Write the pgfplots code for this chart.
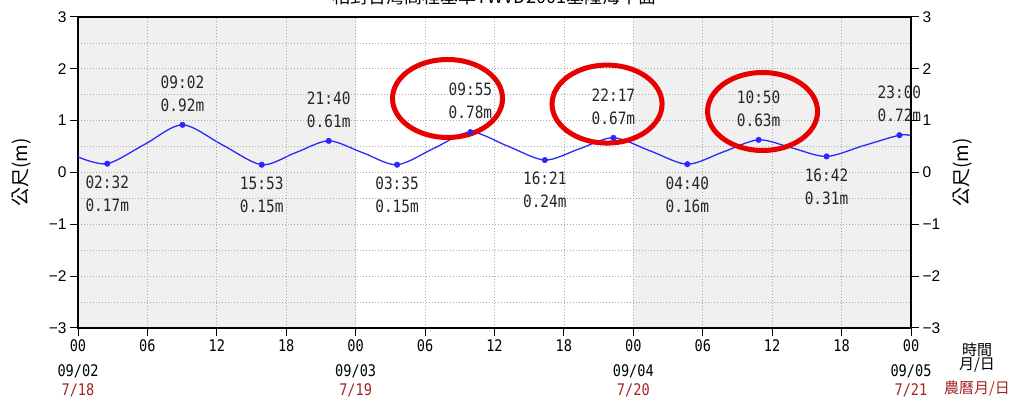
\documentclass[border=0pt]{standalone}
\usepackage{fontspec}
\usepackage{pgfplots}
\usepackage{pgfplotstable}
\pgfplotsset{compat=1.18}
\setmainfont{Liberation Sans}
\newfontfamily\cjk{Noto Sans CJK TC}
\newfontfamily\lab[FakeStretch=0.85]{DejaVu Sans Mono}
\definecolor{tideblue}{RGB}{40,40,255}
\definecolor{bggray}{RGB}{240,240,240}
\definecolor{lunar}{RGB}{165,35,35}
\definecolor{gridgray}{RGB}{170,170,170}
\definecolor{anno}{RGB}{232,0,0}

\pgfplotstableread{
h v
0 0.30
2.53 0.17
5.78 0.545
9.03 0.92
12.46 0.535
15.88 0.15
18.78 0.38
21.67 0.61
24.63 0.38
27.58 0.15
30.75 0.465
33.92 0.78
37.13 0.51
40.35 0.24
43.32 0.455
46.28 0.67
49.48 0.415
52.67 0.16
55.75 0.395
58.83 0.63
61.77 0.47
64.70 0.31
67.85 0.515
71.00 0.72
72.00 0.71
}\curve

\pgfplotstableread{
h v
2.53 0.17
9.03 0.92
15.88 0.15
21.67 0.61
27.58 0.15
33.92 0.78
40.35 0.24
46.28 0.67
52.67 0.16
58.83 0.63
64.70 0.31
71.00 0.72
}\extrema

\begin{document}
\begin{tikzpicture}
\begin{axis}[
  set layers,
  scale only axis, width=833pt, height=311pt,
  xmin=0, xmax=72, ymin=-3, ymax=3,
  xtick={0,6,...,72},
  xticklabels={00,06,12,18,00,06,12,18,00,06,12,18,00},
  ytick={-3,-2,-1,0,1,2,3},
  yticklabels={−3,−2,−1,0,1,2,3},
  minor ytick={-2.5,-1.5,-0.5,0.5,1.5,2.5},
  grid=both,
  major grid style={gridgray, line width=0.8pt, dash pattern=on 1pt off 2pt},
  minor grid style={gridgray, line width=0.8pt, dash pattern=on 1pt off 2pt},
  tick align=outside, major tick length=8pt, minor tick length=0pt,
  xtick pos=bottom, ytick pos=left,
  axis line style={line width=1.2pt, black},
  major tick style={line width=1pt, black},
  yticklabel style={font=\fontsize{15.5}{16}\selectfont},
  xticklabel style={font=\lab\fontsize{16}{16}\selectfont},
  clip=false,
]
\begin{pgfonlayer}{axis background}
\fill[bggray] (axis cs:0,-3) rectangle (axis cs:24,3);
\fill[bggray] (axis cs:48,-3) rectangle (axis cs:72,3);
\end{pgfonlayer}

\addplot[tideblue, line width=1.3pt, smooth, no marks] table[x=h, y=v] {\curve};
\addplot[only marks, mark=*, mark size=2.8pt, tideblue] table[x=h, y=v] {\extrema};

% high / low labels
\tikzset{hl/.style={font=\lab\fontsize{17}{23}\selectfont, align=center, inner sep=0pt, text=black!85}}
\node[hl, anchor=south, yshift=13pt] at (axis cs:9.03,0.92) {09:02\\0.92m};
\node[hl, anchor=south, yshift=13pt] at (axis cs:21.67,0.61) {21:40\\0.61m};
\node[hl, anchor=south, yshift=13pt] at (axis cs:33.92,0.78) {09:55\\0.78m};
\node[hl, anchor=south, yshift=13pt] at (axis cs:46.28,0.67) {22:17\\0.67m};
\node[hl, anchor=south, yshift=13pt] at (axis cs:58.83,0.63) {10:50\\0.63m};
\node[hl, anchor=south, yshift=13pt] at (axis cs:71.00,0.72) {23:00\\0.72m};
\node[hl, anchor=north, yshift=-12pt] at (axis cs:2.53,0.17) {02:32\\0.17m};
\node[hl, anchor=north, yshift=-12pt] at (axis cs:15.88,0.15) {15:53\\0.15m};
\node[hl, anchor=north, yshift=-12pt] at (axis cs:27.58,0.15) {03:35\\0.15m};
\node[hl, anchor=north, yshift=-12pt] at (axis cs:40.35,0.24) {16:21\\0.24m};
\node[hl, anchor=north, yshift=-12pt] at (axis cs:52.67,0.16) {04:40\\0.16m};
\node[hl, anchor=north, yshift=-12pt] at (axis cs:64.70,0.31) {16:42\\0.31m};

% dates
\tikzset{dt/.style={font=\lab\fontsize{16}{16}\selectfont, inner sep=0pt}}
\node[dt] at ([yshift=-43pt]axis cs:0,-3) {09/02};
\node[dt] at ([yshift=-43pt]axis cs:24,-3) {09/03};
\node[dt] at ([yshift=-43pt]axis cs:48,-3) {09/04};
\node[dt] at ([yshift=-43pt]axis cs:72,-3) {09/05};
\node[dt, text=lunar] at ([yshift=-62pt]axis cs:0,-3) {7/18};
\node[dt, text=lunar] at ([yshift=-62pt]axis cs:24,-3) {7/19};
\node[dt, text=lunar] at ([yshift=-62pt]axis cs:48,-3) {7/20};
\node[dt, text=lunar] at ([yshift=-62pt]axis cs:72,-3) {7/21};
\tikzset{cj/.style={font=\cjk\fontsize{15}{15}\selectfont, inner sep=0pt}}
\node[cj] at ([xshift=66pt,yshift=-22pt]axis cs:72,-3) {時間};
\node[cj] at ([xshift=66pt,yshift=-37pt]axis cs:72,-3) {月/日};
\node[cj, text=lunar] at ([xshift=66pt,yshift=-61pt]axis cs:72,-3) {農曆月/日};

% y labels
\node[rotate=90, font=\cjk\fontsize{19}{19}\selectfont] at ([xshift=-56pt]axis cs:0,0) {公尺(m)};
\node[rotate=90, font=\cjk\fontsize{19}{19}\selectfont] at ([xshift=52pt]axis cs:72,0) {公尺(m)};

% red annotation ellipses
\draw[anno, line width=5pt] (axis cs:31.94,1.428) ellipse [x radius=55pt, y radius=39pt];
\draw[anno, line width=5pt] (axis cs:45.73,1.32) ellipse [x radius=55pt, y radius=39pt];
\draw[anno, line width=5pt] (axis cs:59.17,1.177) ellipse [x radius=55pt, y radius=39pt];
\end{axis}

\begin{axis}[
  scale only axis, width=833pt, height=311pt,
  xmin=0, xmax=72, ymin=-3, ymax=3,
  axis x line=none, axis y line*=right,
  ytick={-3,-2,-1,0,1,2,3},
  yticklabels={−3,−2,−1,0,1,2,3},
  tick align=outside, major tick length=8pt,
  axis line style={line width=1.2pt, black},
  major tick style={line width=1pt, black},
  yticklabel style={font=\fontsize{15.5}{16}\selectfont},
]
\addplot[draw=none] coordinates {(0,0)};
\end{axis}

\node[anchor=base, font=\cjk\fontsize{18}{18}\selectfont] at (416.5pt,324pt) {相對台灣高程基準TWVD2001基隆海平面};

\pgfresetboundingbox
\path[use as bounding box] (-78pt,-73pt) rectangle (935pt,328pt);
\end{tikzpicture}
\end{document}
